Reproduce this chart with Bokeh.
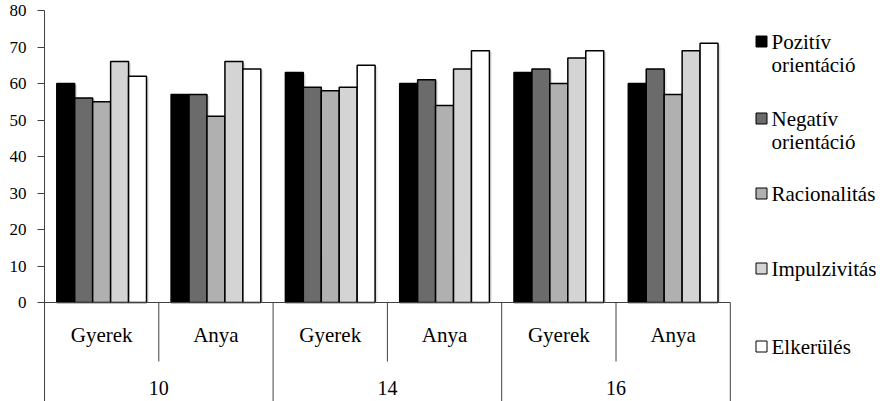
from bokeh.plotting import figure
from bokeh.models import Range1d, FixedTicker
from bokeh.core.properties import value
from bokeh.embed import file_html
from bokeh.resources import INLINE

# ---- data ----
ages = ["10", "14", "16"]
roles = ["Gyerek", "Anya"]
series_labels = ["Pozitív orientáció", "Negatív orientáció", "Racionalitás",
                 "Impulzivitás", "Elkerülés"]
pozitiv = [60, 57, 63, 60, 63, 60]
negativ = [56, 57, 59, 61, 64, 64]
racionalitas = [55, 51, 58, 54, 60, 57]
impulzivitas = [66, 66, 59, 64, 67, 69]
elkerules = [62, 64, 65, 69, 69, 71]
y_ticks = [0, 10, 20, 30, 40, 50, 60, 70, 80]

series_values = [pozitiv, negativ, racionalitas, impulzivitas, elkerules]
fills = ["#000000", "#6b6b6b", "#b0b0b0", "#d4d4d4", "#ffffff"]

# ---- layout helpers (pixel -> data) ----
W, H = 886, 401
FRAME_L, FRAME_T = 44, 10
PX_PER_X = 114.3
PX_PER_Y = 3.65
Y_TOP = 80
x_end = (W - FRAME_L) / PX_PER_X
y_start = Y_TOP - (H - FRAME_T) / PX_PER_Y


def dx(px):
    return (px - FRAME_L) / PX_PER_X


def dy(py):
    return Y_TOP - (py - FRAME_T) / PX_PER_Y


FONT_NAME = "Liberation Serif"
AX = "#404040"

p = figure(width=W, height=H, output_backend="svg", toolbar_location=None,
           x_range=Range1d(0, x_end), y_range=Range1d(y_start, Y_TOP),
           min_border_left=FRAME_L, min_border_top=FRAME_T,
           min_border_bottom=0, min_border_right=0)
p.xaxis.visible = False
p.outline_line_color = None
p.xgrid.visible = False
p.ygrid.visible = False

ya = p.yaxis[0]
ya.ticker = FixedTicker(ticks=y_ticks)
ya.major_tick_out = 7
ya.major_tick_in = 0
ya.minor_tick_line_color = None
ya.axis_line_color = AX
ya.major_tick_line_color = AX
ya.major_label_standoff = 11
ya.major_label_text_font = FONT_NAME
ya.major_label_text_font_size = "17px"
ya.major_label_text_color = "black"

groups = [(a, r) for a in ages for r in roles]
n_groups = len(groups)
bar_w = 0.157
n_series = len(series_values)

for k, (vals, col) in enumerate(zip(series_values, fills)):
    xs = [i + 0.5 + (k - (n_series - 1) / 2) * bar_w for i in range(n_groups)]
    p.vbar(x=[x + 0.02 for x in xs], top=[v - 0.4 for v in vals], bottom=0,
           width=bar_w, fill_color="#000000", fill_alpha=0.12, line_color=None)
    p.vbar(x=xs, top=vals, bottom=0, width=bar_w, fill_color=col,
           line_color="black", line_width=1.5)

# baseline
p.segment(x0=[0], x1=[n_groups], y0=[0], y1=[0], line_color=AX, line_width=1)

# separators
inner_x = [i for i in range(1, n_groups) if i % len(roles) != 0]
outer_x = [i for i in range(len(roles), n_groups + 1, len(roles))]
p.segment(x0=inner_x, x1=inner_x, y0=[0] * len(inner_x), y1=[dy(361)] * len(inner_x),
          line_color=AX, line_width=1)
p.segment(x0=outer_x, x1=outer_x, y0=[0] * len(outer_x), y1=[y_start] * len(outer_x),
          line_color=AX, line_width=1)

# category labels
p.text(x=[i + 0.5 for i in range(n_groups)], y=[dy(334)] * n_groups,
       text=[r for (_, r) in groups], text_align="center", text_baseline="middle",
       text_font=value(FONT_NAME), text_font_size="21px")
p.text(x=[j * len(roles) + len(roles) / 2 for j in range(len(ages))],
       y=[dy(387)] * len(ages), text=ages, text_align="center",
       text_baseline="middle", text_font=value(FONT_NAME), text_font_size="20px")

# legend (manual)
leg_y = [41, 118, 193, 268, 346]
for lbl, col, py in zip(series_labels, fills, leg_y):
    p.scatter(x=[dx(761)], y=[dy(py)], marker="square", size=11,
              fill_color=col, line_color="black", line_width=1)
    lines = lbl.split(" ")
    p.text(x=[dx(771)] * len(lines), y=[dy(py + 23 * i) for i in range(len(lines))],
           text=lines, text_align="left", text_baseline="middle",
           text_font=value(FONT_NAME), text_font_size="21px")

open("out.html", "w").write(file_html(p, INLINE))
